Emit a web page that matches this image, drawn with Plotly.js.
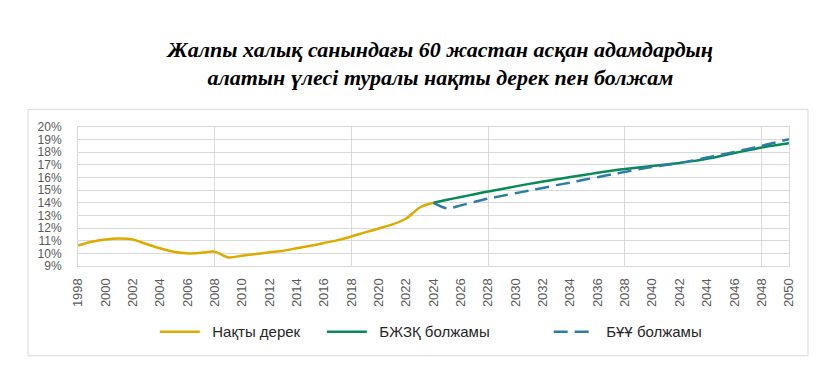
<!DOCTYPE html>
<html>
<head>
<meta charset="utf-8">
<script src="https://cdn.plot.ly/plotly-3.0.1.min.js"></script>
<style>html,body{margin:0;padding:0;background:#fff;}#chart{width:834px;height:378px;}</style>
</head>
<body>
<div id="chart"></div>
<script>
// Actual data (Нақты дерек), %
const actualYears = [1998,1999,2000,2001,2002,2003,2004,2005,2006,2007,2008,2009,2010,2011,2012,2013,2014,2015,2016,2017,2018,2019,2020,2021,2022,2023,2024];
const actualValues = [10.62,10.92,11.1,11.18,11.1,10.74,10.4,10.13,10.0,10.05,10.13,9.68,9.82,9.95,10.08,10.2,10.4,10.6,10.82,11.05,11.34,11.66,11.97,12.29,12.76,13.63,14.0];

// Forecast years
const forecastYears = [2024,2025,2026,2027,2028,2029,2030,2031,2032,2033,2034,2035,2036,2037,2038,2039,2040,2041,2042,2043,2044,2045,2046,2047,2048,2049,2050];
// БЖЗҚ forecast, %
const bjzkValues = [14.0,14.24,14.46,14.68,14.9,15.1,15.3,15.5,15.68,15.86,16.04,16.2,16.38,16.54,16.68,16.8,16.92,17.04,17.16,17.3,17.48,17.7,17.94,18.16,18.38,18.55,18.72];
// БҰҰ forecast, %
const unValues = [14.0,13.55,13.8,14.07,14.34,14.55,14.76,14.97,15.18,15.4,15.6,15.82,16.03,16.24,16.45,16.65,16.84,17.0,17.16,17.36,17.58,17.8,18.03,18.27,18.5,18.78,19.03];

const seriesNames = ['Нақты дерек', 'БЖЗҚ болжамы', 'БҰҰ болжамы'];
const xTickVals = [1998,2000,2002,2004,2006,2008,2010,2012,2014,2016,2018,2020,2022,2024,2026,2028,2030,2032,2034,2036,2038,2040,2042,2044,2046,2048,2050];
const yTickVals = [9,10,11,12,13,14,15,16,17,18,19,20];
const yTickText = ['9%','10%','11%','12%','13%','14%','15%','16%','17%','18%','19%','20%'];
const titleText = '<b><i>Жалпы халық санындағы 60 жастан асқан адамдардың<br>алатын үлесі туралы нақты дерек пен болжам</i></b>';

const xLabelFont = {family: 'Liberation Sans, Arial, sans-serif', size: 13, color: '#595959'};
const yLabelFont = {family: 'Liberation Sans, Arial, sans-serif', size: 12, color: '#595959'};
const legendFont = {family: 'Liberation Sans, Arial, sans-serif', size: 15, color: '#262626'};

const traces = [
  {x: actualYears, y: actualValues, name: '\u2002' + seriesNames[0], type: 'scatter', mode: 'lines',
   line: {color: '#DDAA00', width: 2.5, shape: 'spline', smoothing: 0.8}, legend: 'legend'},
  {x: forecastYears, y: bjzkValues, name: '\u2002' + seriesNames[1], type: 'scatter', mode: 'lines',
   line: {color: '#078A55', width: 2.5, shape: 'spline', smoothing: 0.6}, legend: 'legend2'},
  {x: forecastYears, y: unValues, name: '\u2002' + seriesNames[2], type: 'scatter', mode: 'lines', xaxis: 'x2',
   line: {color: '#2B7DA6', width: 2.5, dash: '14px,7px', shape: 'spline', smoothing: 0.6}, legend: 'legend3'}
];

const legendCommon = {orientation: 'h', yanchor: 'middle', y: -0.474, xanchor: 'left',
  font: legendFont, bgcolor: 'rgba(0,0,0,0)', itemwidth: 40};

const layout = {
  width: 834, height: 378,
  margin: {l: 78, r: 45, t: 127, b: 112},
  paper_bgcolor: '#fff', plot_bgcolor: '#fff',
  title: {text: titleText, x: 0.528, xref: 'container', xanchor: 'center', y: 0.85, yref: 'container', yanchor: 'middle',
    font: {family: 'Liberation Serif, Times New Roman, serif', size: 22, color: '#000'}},
  xaxis: {range: [1998, 2050], tickmode: 'array', tickvals: xTickVals, ticktext: xTickVals.map(String), tickangle: -90,
    showgrid: false, zeroline: false, showline: true, mirror: true, linecolor: '#D9D9D9', linewidth: 1, ticks: '',
    tickfont: xLabelFont, ticklabelstandoff: 6},
  xaxis2: {range: [1998, 2050], overlaying: 'x', matches: 'x', anchor: 'y', side: 'bottom', tick0: 1998, dtick: 10,
    showgrid: true, gridcolor: '#D9D9D9', gridwidth: 1, showticklabels: false, zeroline: false, showline: false, ticks: ''},
  yaxis: {range: [9, 20], tickmode: 'array', tickvals: yTickVals, ticktext: yTickText, showgrid: true, gridcolor: '#D9D9D9',
    gridwidth: 1, showline: true, mirror: true, linecolor: '#D9D9D9', linewidth: 1, zeroline: false, ticks: '',
    tickfont: yLabelFont, ticklabelstandoff: 13},
  showlegend: true,
  legend: Object.assign({}, legendCommon, {x: 0.108}),
  legend2: Object.assign({}, legendCommon, {x: 0.343}),
  legend3: Object.assign({}, legendCommon, {x: 0.662}),
  shapes: [{type: 'rect', xref: 'paper', yref: 'paper', x0: -0.0703, x1: 1.0267, y0: -0.646, y1: 1.127,
    line: {color: '#D9D9D9', width: 1}, fillcolor: 'rgba(0,0,0,0)', layer: 'below'}]
};

Plotly.newPlot('chart', traces, layout, {displayModeBar: false, staticPlot: true});
</script>
</body>
</html>
